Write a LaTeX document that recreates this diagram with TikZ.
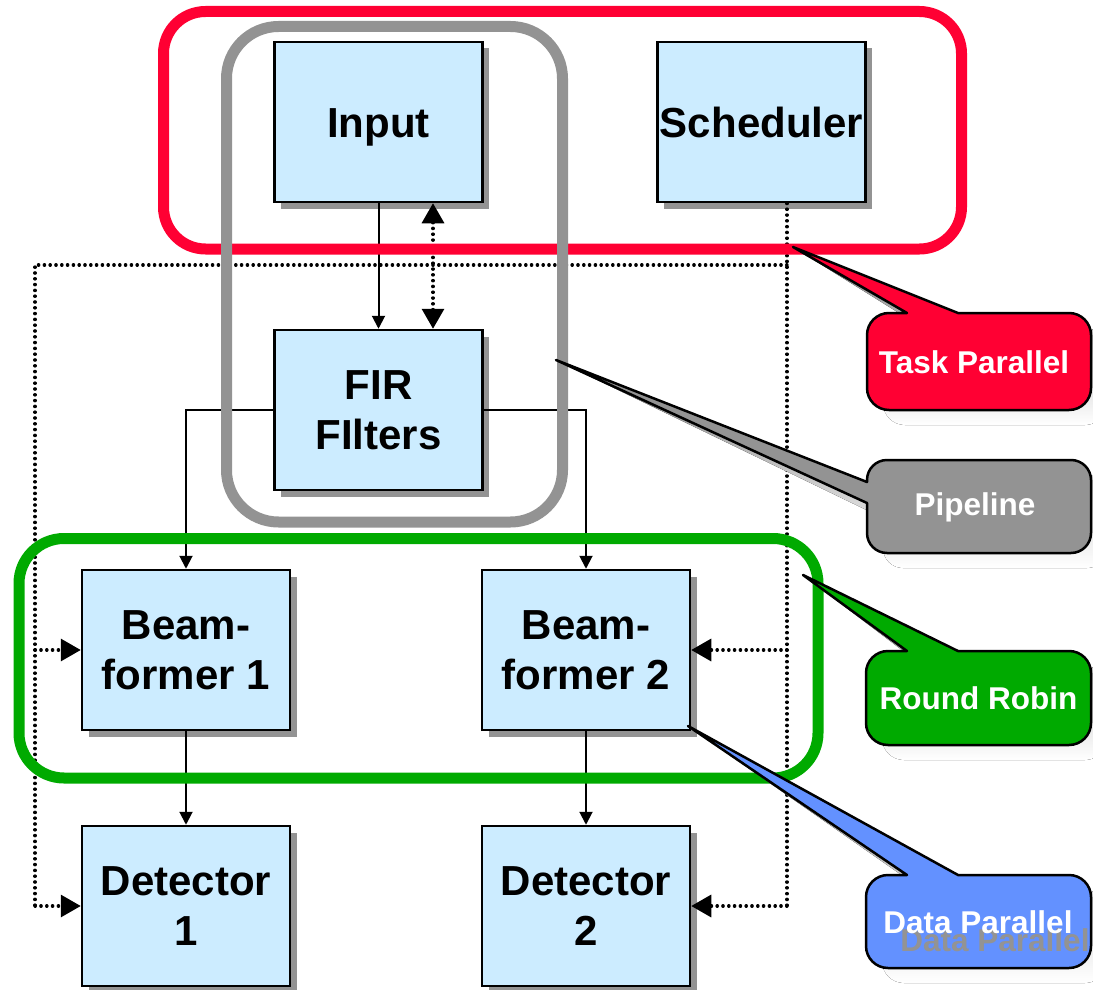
\documentclass[tikz,border=0pt]{standalone}
\usepackage{fontspec}
\setmainfont{Liberation Sans}
\usetikzlibrary{arrows.meta,shadows,calc}

\definecolor{boxfill}{HTML}{CCECFF}
\definecolor{taskred}{HTML}{FF0033}
\definecolor{pipegray}{HTML}{939393}
\definecolor{rrgreen}{HTML}{00AA00}
\definecolor{dpblue}{HTML}{6391FF}
\definecolor{shade}{HTML}{939393}

% callout bubble: shadow first, then the filled outline
\newcommand\drawbubble[2]{%
  \fill[shade, shift={(16,15)}] #2;
  \draw[bubble, fill=#1] #2;
}

\begin{document}
\begin{tikzpicture}[x=1pt, y=-1pt,
  block/.style={draw=black, line width=2.5pt, fill=boxfill,
    minimum width=208pt, minimum height=160pt, inner sep=0pt,
    align=center, text=black,
    font=\fontsize{42}{50}\selectfont\bfseries,
    drop shadow={shadow xshift=6.5pt, shadow yshift=-6.5pt,
      fill=shade, opacity=1}},
  oneline/.style={text height=30pt, text depth=0pt},
  flow/.style={line width=2pt, -{Triangle[length=13pt, width=13pt]}},
  dotline/.style={line width=3.2pt, line cap=round,
    dash pattern=on 0.4pt off 5.4pt},
  dotarrow/.style={dotline, -{Triangle[length=20pt, width=22pt]}},
  dotboth/.style={dotline, {Triangle[length=20pt, width=22pt]}-{Triangle[length=20pt, width=22pt]}},
  group/.style={line width=11pt},
  bubble/.style={draw=black, line width=2.5pt, line join=round},
  bubbletext/.style={text=white, font=\fontsize{31.5}{36}\selectfont\bfseries,
    inner sep=0pt}
]
\useasboundingbox (0,0) rectangle (1093,990);

% processing blocks
\node[block, oneline] (input) at (378.5,122) {Input};
\node[block, oneline] (sched) at (761.5,122) {Scheduler};
\node[block] (fir)   at (378.5,410) {FIR\\FIlters};
\node[block] (bf1)   at (186,650)   {Beam-\\former 1};
\node[block] (bf2)   at (586,650)   {Beam-\\former 2};
\node[block] (det1)  at (186,906)   {Detector\\1};
\node[block] (det2)  at (586,906)   {Detector\\2};

% data flow
\draw[flow] (input.south) -- (fir.north);
\draw[flow] (fir.west) -| (bf1.north);
\draw[flow] (fir.east) -| (bf2.north);
\draw[flow] (bf1.south) -- (det1.north);
\draw[flow] (bf2.south) -- (det2.north);

% control lines from the scheduler
\coordinate (sdrop) at ([xshift=25.5pt]sched.south);
\coordinate (rtop) at (sdrop |- 0,265);
\coordinate (ltop) at (35,265);
\draw[dotline] (sdrop) -- (sdrop |- det2.east);
\draw[dotline] (rtop) -- (ltop) -- (ltop |- det1.west);
\draw[dotarrow] (ltop |- bf1.west) -- (bf1.west);
\draw[dotarrow] (ltop |- det1.west) -- (det1.west);
\draw[dotarrow] (sdrop |- bf2.east) -- (bf2.east);
\draw[dotarrow] (sdrop |- det2.east) -- (det2.east);
\draw[dotboth] ([xshift=54.5pt]input.south) -- ([xshift=54.5pt]fir.north);

% parallelism groups
\draw[group, draw=taskred, rounded corners=42pt] (163.5,11.5) rectangle (961.5,249);
\draw[group, draw=pipegray, rounded corners=52pt] (226.5,26.5) rectangle (562.5,522);
\draw[group, draw=rrgreen, rounded corners=45pt] (19,538.5) rectangle (818,778);

% callouts
\coordinate (tptip) at (793,247);
\coordinate (pltip) at (556,360);
\coordinate (rrtip) at (803,575);
\coordinate (dptip) at (688,726);

\drawbubble{taskred}{(tptip) -- (958,313) [rounded corners=22pt] -- (1091,313)
  -- (1091,410) -- (867,410) -- (867,313) [sharp corners] -- (907,313) -- cycle}
\node[bubbletext] (tp) at (974,362) {Task Parallel};

\drawbubble{pipegray}{(pltip) -- (867,503) [rounded corners=20pt] -- (867,553)
  -- (1091,553) -- (1091,460) -- (867,460) [sharp corners] -- (867,482) -- cycle}
\node[bubbletext] (pl) at (975,507) {Pipeline};

\drawbubble{rrgreen}{(rrtip) -- (958,651) [rounded corners=22pt] -- (1091,651)
  -- (1091,745) -- (866,745) -- (866,651) [sharp corners] -- (907,651) -- cycle}
\node[bubbletext] (rr) at (978.5,698) {Round Robin};

\drawbubble{dpblue}{(dptip) -- (958,875) [rounded corners=22pt] -- (1091,875)
  -- (1091,968) -- (866,968) -- (866,875) [sharp corners] -- (907,875) -- cycle}
\node[bubbletext, text=shade] (dpghost) at (995,940) {Data Parallel};
\node[bubbletext] (dp) at (978,922) {Data Parallel};
\end{tikzpicture}
\end{document}
